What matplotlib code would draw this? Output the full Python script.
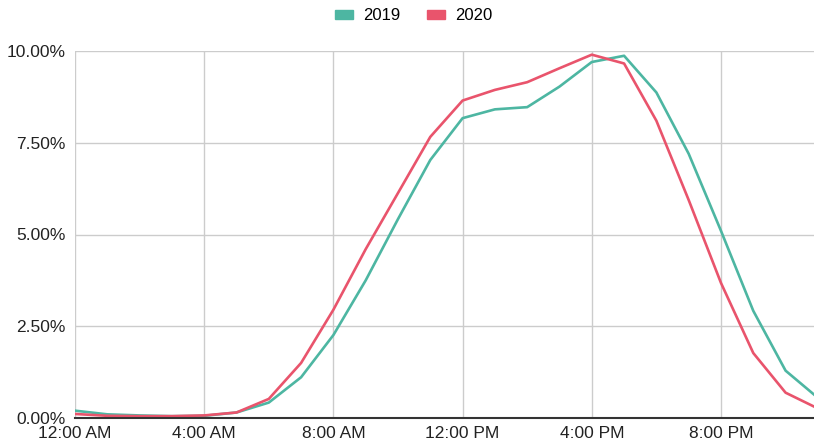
import matplotlib
matplotlib.use("Agg")
import matplotlib.pyplot as plt
from matplotlib.patches import Patch

hours = list(range(24))
tick_hours = [0, 4, 8, 12, 16, 20]
tick_labels = ["12:00 AM", "4:00 AM", "8:00 AM", "12:00 PM", "4:00 PM", "8:00 PM"]
y_ticks = [0, 2.5, 5, 7.5, 10]

series_2019 = [0.20, 0.10, 0.07, 0.05, 0.06, 0.15, 0.42, 1.11, 2.26, 3.75, 5.42, 7.03,
               8.17, 8.41, 8.47, 9.03, 9.70, 9.87, 8.87, 7.20, 5.10, 2.92, 1.29, 0.55]
series_2020 = [0.11, 0.06, 0.05, 0.05, 0.07, 0.15, 0.52, 1.50, 2.95, 4.60, 6.13, 7.66,
               8.65, 8.94, 9.15, 9.53, 9.90, 9.66, 8.10, 5.94, 3.68, 1.77, 0.69, 0.26]

c2019 = "#4db6a2"
c2020 = "#e9546c"

plt.rcParams['font.family'] = ['Liberation Sans', 'DejaVu Sans']
fig = plt.figure(figsize=(8.14, 4.47), dpi=100)
ax = fig.add_axes([75/814, 1-418/447, 1-75/814, (418-51)/447])

ax.plot(hours, series_2019, color=c2019, lw=1.9, solid_joinstyle='round')
ax.plot(hours, series_2020, color=c2020, lw=1.9, solid_joinstyle='round')

ax.set_xlim(0, 22.88)
ax.set_ylim(0, 10)
ax.set_xticks(tick_hours)
ax.set_xticklabels(tick_labels)
ax.set_yticks(y_ticks)
ax.set_yticklabels([f"{v:.2f}%" for v in y_ticks])
ax.grid(True, color="#cccccc", lw=1.0)
ax.set_axisbelow(True)
for s in ["top", "right", "left"]:
    ax.spines[s].set_visible(False)
ax.spines["bottom"].set_color("#333333")
ax.spines["bottom"].set_linewidth(1.5)
ax.spines["bottom"].set_zorder(5)
ax.tick_params(axis='both', length=0, labelsize=12.5, colors="#222222")
ax.tick_params(axis='x', pad=6)
ax.tick_params(axis='y', pad=7)

handles = [Patch(color=c2019, label="2019"), Patch(color=c2020, label="2020")]
fig.legend(handles=handles, loc="upper center", bbox_to_anchor=(0.508, 1.015), ncol=2,
           frameon=False, fontsize=12, handlelength=1.1, handleheight=0.5,
           columnspacing=1.6, handletextpad=0.6)

fig.savefig("out.png", dpi=100)
